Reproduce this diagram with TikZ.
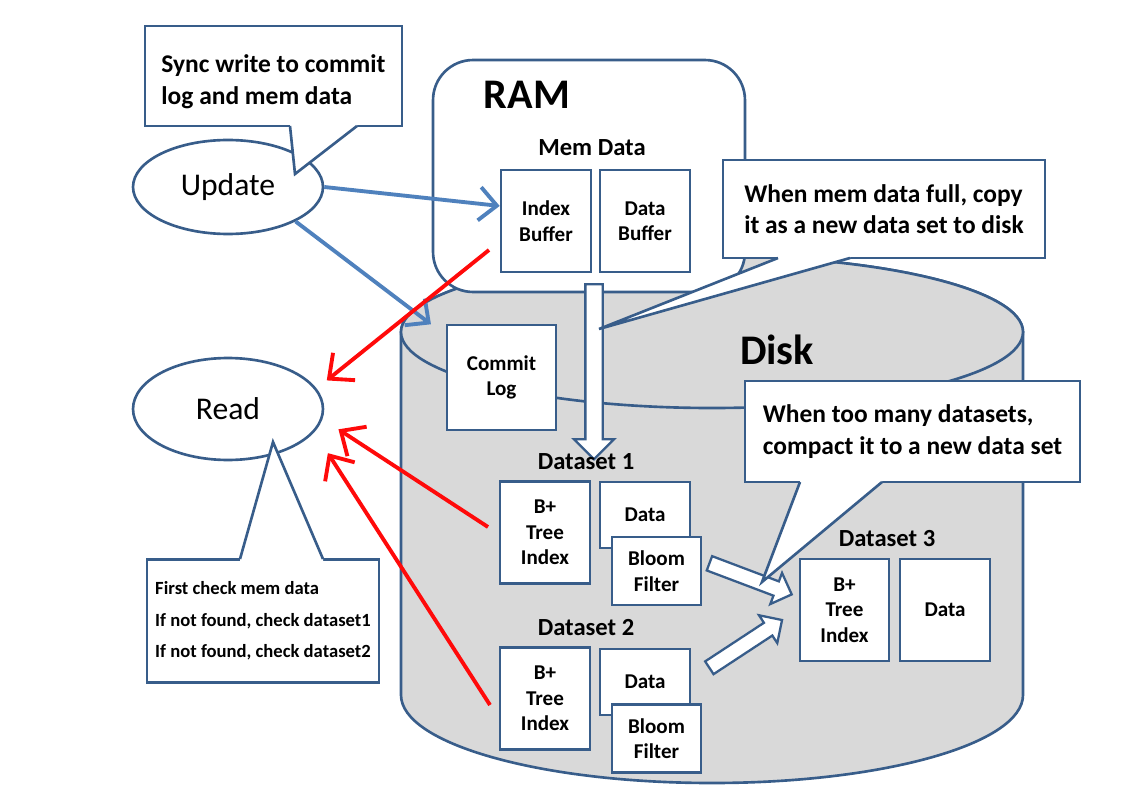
\documentclass[tikz,border=0pt]{standalone}
\usepackage{fontspec}
\setmainfont{Carlito}
\usetikzlibrary{arrows.meta,shapes.geometric,shapes.arrows}

\definecolor{edgeblue}{HTML}{385D8A}
\definecolor{flowblue}{HTML}{4F81BD}
\definecolor{readred}{HTML}{FF0A0A}
\definecolor{diskgray}{HTML}{D9D9D9}

\tikzset{
  box/.style={draw=edgeblue, line width=1.5pt, fill=white, inner sep=0pt, align=center,
    font=\bfseries\fontsize{12}{14.5}\selectfont, minimum width=1.8cm, minimum height=2.04cm},
  note/.style={draw=edgeblue, line width=1.5pt, fill=white, inner sep=0pt, align=left,
    font=\bfseries\fontsize{14.5}{18}\selectfont},
  tail/.style={draw=edgeblue, line width=1.5pt},
  bubble/.style={ellipse, draw=edgeblue, line width=1.5pt, fill=white, inner sep=0pt,
    minimum width=3.8cm, font=\fontsize{18}{20}\selectfont},
  dslabel/.style={font=\bfseries\fontsize{14}{16}\selectfont},
  biglabel/.style={font=\bfseries\fontsize{24}{26}\selectfont},
  diskline/.style={draw=edgeblue, line width=1.5pt, fill=diskgray},
  writearrow/.style={flowblue, line width=2.2pt, -{Straight Barb[length=10pt,width=19pt]}},
  readarrow/.style={readred, line width=2.2pt, -{Straight Barb[length=11pt,width=20pt]}},
  copyarrow/.style={single arrow, draw=edgeblue, line width=1.3pt, fill=white, inner xsep=0pt,
    single arrow head indent=0pt}
}

\begin{document}
\begin{tikzpicture}[x=0.02cm, y=-0.02cm]
\useasboundingbox (0,0) rectangle (1132,804);

% disk cylinder
\draw[diskline] (401,332) -- (401,695)
  arc[start angle=180, end angle=0, x radius=311, y radius=88] -- (1023,332)
  arc[start angle=0, end angle=-180, x radius=311, y radius=76] -- cycle;
\draw[diskline] (712,332) ellipse [x radius=311, y radius=76];

% memory
\node[box, rounded corners=0.8cm, minimum width=6.24cm, minimum height=4.64cm] (ram) at (589,176) {};
\node[biglabel] (ramlbl) at (527,95) {RAM};
\node[biglabel] (disklbl) at (777,350) {Disk};
\node[dslabel] (memlbl) at (592,148) {Mem Data};
\node[box] (ib) at (546,221) {Index\\Buffer};
\node[box] (db) at (645,221) {Data\\Buffer};
\node[box, minimum width=2.18cm, minimum height=2.1cm] (cl) at (501.5,377.5) {Commit\\Log};

\node[copyarrow, rotate=-90, minimum height=3.5cm, inner ysep=0.15cm,
  single arrow head extend=0.23cm] (flush) at (594,367.5) {};

% datasets
\node[dslabel] (ds1) at (586,462) {Dataset 1};
\node[box] (ds1i) at (545,532.5) {B+\\Tree\\Index};
\node[box, minimum height=1.32cm] (ds1d) at (645,515) {Data};
\node[box, minimum width=1.78cm, minimum height=1.36cm] (ds1b) at (656.5,571) {Bloom\\Filter};

\node[dslabel] (ds2) at (586,628) {Dataset 2};
\node[box] (ds2i) at (545,698.5) {B+\\Tree\\Index};
\node[box, minimum height=1.32cm] (ds2d) at (645,682) {Data};
\node[box, minimum width=1.78cm, minimum height=1.36cm] (ds2b) at (656.5,738.5) {Bloom\\Filter};

\node[dslabel] (ds3) at (887,539) {Dataset 3};
\node[box, minimum width=1.78cm] (ds3i) at (844.5,610) {B+\\Tree\\Index};
\node[box] (ds3d) at (945,610) {Data};

\node[copyarrow, rotate=-20.7, minimum height=1.76cm, inner ysep=0.13cm,
  single arrow head extend=0.18cm] (merge1) at (747,577.5) {};
\node[copyarrow, rotate=33.3, minimum height=1.74cm, inner ysep=0.13cm,
  single arrow head extend=0.18cm] (merge2) at (742.5,646) {};

% notes on disk
\node[note, minimum width=6.44cm, minimum height=1.96cm] (fullnote) at (884,209)
  {When mem data full, copy\\it as a new data set to disk};
\fill[white] (778,255) -- (850,255) -- (850,258) -- (599,329) -- (778,258) -- cycle;
\draw[tail] (778,258) -- (599,329) -- (850,258);

\node[note, minimum width=6.7cm, minimum height=2.02cm] (compnote) at (912.5,431.5)
  {When too many datasets,\\compact it to a new data set};
\fill[white] (800,479) -- (882,479) -- (882,482) -- (762,582) -- (800,482) -- cycle;
\draw[tail] (800,482) -- (762,582) -- (882,482);

% clients
\node[bubble, minimum height=1.88cm] (upd) at (228,187) {Update};
\node[bubble, minimum height=2.04cm] (read) at (228,409) {Read};

\node[note, minimum width=5.14cm, minimum height=2cm] (syncnote) at (273.5,76)
  {\rule{0pt}{17pt}Sync write to commit\\log and mem data};
\fill[white] (290,123) -- (357,123) -- (357,126) -- (295,174) -- (290,126) -- cycle;
\draw[tail] (290,126) -- (295,174) -- (357,126);

\node[note, minimum width=4.64cm, minimum height=2.46cm,
  font=\bfseries\fontsize{10.6}{18}\selectfont] (readnote) at (263,621)
  {First check mem data\\If not found, check dataset1\\If not found, check dataset2};
\fill[white] (240,562) -- (323,562) -- (323,559) -- (273,442) -- (240,559) -- cycle;
\draw[tail] (240,559) -- (273,442) -- (323,559);

% writes
\draw[writearrow] (upd.east) -- (ib.162);
\draw[writearrow, shorten >=0.37cm] (upd.-27) -- (cl.143);

% reads
\coordinate (probe1) at (489,250);
\coordinate (probe2) at (488,527);
\coordinate (probe3) at (490,705);
\draw[readarrow, shorten >=0.26cm] (probe1) -- (read.13.5);
\draw[readarrow, shorten >=0.38cm] (probe2) -- (read.-6.6);
\draw[readarrow, shorten >=0.5cm] (probe3) -- (read.-15);
\end{tikzpicture}
\end{document}
